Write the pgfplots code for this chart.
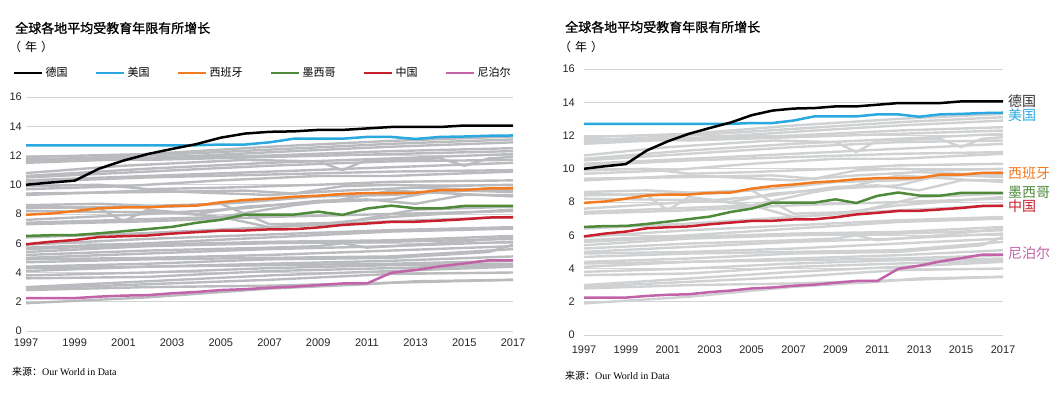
\documentclass[border=0pt]{standalone}
\usepackage{pgfplots}
\pgfplotsset{compat=1.18}
\usepackage{fontspec}
\setmainfont{Liberation Sans}
\newfontfamily\cjk{Noto Sans CJK SC}
\newfontfamily\cjkb[FakeBold=1.2]{Noto Sans CJK SC}
\newfontfamily\serifLatin{Liberation Serif}
\definecolor{cBlue}{HTML}{29A9E0}
\definecolor{cOrange}{HTML}{F47A20}
\definecolor{cGreen}{HTML}{4E8A3A}
\definecolor{cRed}{HTML}{C8202E}
\definecolor{cPink}{HTML}{C262A8}
\definecolor{greyL}{HTML}{BABBBE}
\definecolor{greyR}{HTML}{D0D1D3}
\definecolor{gridc}{HTML}{D4D4D4}

\newcommand{\greylines}{%
\addplot[gl] coordinates {(1997,11.9)(2002,12.1)(2007,12.6)(2012,13.0)(2017,13.3)};
\addplot[gl] coordinates {(1997,11.7)(2002,12.0)(2007,12.4)(2012,12.8)(2017,13.1)};
\addplot[gl] coordinates {(1997,11.6)(2003,11.9)(2008,12.3)(2012,12.6)(2017,12.9)};
\addplot[gl] coordinates {(1997,11.5)(2002,11.8)(2007,12.0)(2012,12.3)(2017,12.5)};
\addplot[gl] coordinates {(1997,11.8)(2002,11.7)(2007,11.9)(2012,12.1)(2017,12.3)};
\addplot[gl] coordinates {(1997,10.8)(2001,11.3)(2006,11.7)(2009,11.6)(2010,11.0)(2011,11.7)(2014,11.8)(2015,11.3)(2016,11.8)(2017,11.9)};
\addplot[gl] coordinates {(1997,10.6)(2002,11.1)(2007,11.5)(2012,11.8)(2017,12.1)};
\addplot[gl] coordinates {(1997,10.5)(2002,10.9)(2007,11.3)(2012,11.6)(2017,11.7)};
\addplot[gl] coordinates {(1997,10.3)(2002,10.6)(2007,10.9)(2012,11.2)(2017,11.5)};
\addplot[gl] coordinates {(1997,10.2)(2002,10.5)(2007,10.7)(2012,10.9)(2017,11.0)};
\addplot[gl] coordinates {(1997,9.9)(2000,10.0)(2002,9.7)(2005,9.8)(2009,10.0)(2012,10.2)(2017,10.3)};
\addplot[gl] coordinates {(1997,9.7)(2001,9.9)(2005,10.3)(2009,10.6)(2012,10.6)(2017,10.9)};
\addplot[gl] coordinates {(1997,9.4)(2002,9.5)(2006,9.6)(2008,9.4)(2010,9.9)(2012,10.0)(2014,9.9)(2017,10.0)};
\addplot[gl] coordinates {(1997,9.3)(2002,9.6)(2007,9.3)(2010,9.6)(2013,9.8)(2017,9.6)};
\addplot[gl] coordinates {(1997,8.6)(2000,8.7)(2003,8.5)(2006,8.8)(2009,9.2)(2012,9.3)(2015,9.6)(2017,9.5)};
\addplot[gl] coordinates {(1997,8.5)(2000,8.4)(2001,7.5)(2002,8.3)(2004,8.0)(2006,8.5)(2009,8.8)(2012,9.0)(2014,9.6)(2017,9.8)};
\addplot[gl] coordinates {(1997,8.4)(2001,8.5)(2005,8.7)(2007,7.3)(2010,7.4)(2013,8.3)(2017,8.5)};
\addplot[gl] coordinates {(1997,8.2)(2003,8.1)(2005,7.8)(2008,8.6)(2010,9.0)(2012,9.6)(2017,9.2)};
\addplot[gl] coordinates {(1997,7.6)(2002,8.0)(2006,8.4)(2009,8.9)(2011,9.0)(2013,8.7)(2015,9.3)(2017,9.3)};
\addplot[gl] coordinates {(1997,7.4)(2001,7.6)(2005,7.8)(2007,7.1)(2009,7.3)(2012,7.8)(2017,8.3)};
\addplot[gl] coordinates {(1997,7.3)(2002,7.5)(2007,7.8)(2012,8.0)(2017,8.2)};
\addplot[gl] coordinates {(1997,6.4)(2002,6.7)(2007,7.1)(2012,7.5)(2017,7.8)};
\addplot[gl] coordinates {(1997,5.9)(2002,6.3)(2007,6.6)(2012,6.9)(2017,7.1)};
\addplot[gl] coordinates {(1997,5.7)(2002,6.0)(2007,6.4)(2012,6.8)(2017,7.0)};
\addplot[gl] coordinates {(1997,5.6)(2002,5.9)(2007,6.1)(2012,6.2)(2017,6.5)};
\addplot[gl] coordinates {(1997,5.4)(2002,5.8)(2007,6.0)(2012,6.1)(2017,6.3)};
\addplot[gl] coordinates {(1997,5.2)(2002,5.5)(2007,5.7)(2009,5.8)(2010,6.0)(2011,5.7)(2014,6.0)(2017,6.4)};
\addplot[gl] coordinates {(1997,5.0)(2002,5.3)(2007,5.6)(2012,5.8)(2017,6.1)};
\addplot[gl] coordinates {(1997,4.9)(2002,5.0)(2007,5.2)(2012,5.5)(2017,5.8)};
\addplot[gl] coordinates {(1997,4.7)(2002,4.9)(2007,5.0)(2012,5.1)(2017,5.6)};
\addplot[gl] coordinates {(1997,4.4)(2002,4.6)(2007,4.9)(2012,5.0)(2016,5.4)(2017,5.9)};
\addplot[gl] coordinates {(1997,4.3)(2002,4.4)(2007,4.6)(2012,4.8)(2017,5.1)};
\addplot[gl] coordinates {(1997,4.1)(2002,4.4)(2007,4.5)(2012,4.6)(2017,4.8)};
\addplot[gl] coordinates {(1997,3.8)(2002,4.0)(2007,4.3)(2012,4.5)(2017,4.6)};
\addplot[gl] coordinates {(1997,3.6)(2002,3.7)(2007,4.1)(2012,4.3)(2017,4.5)};
\addplot[gl] coordinates {(1997,3.0)(2002,3.4)(2007,3.8)(2012,4.1)(2017,4.4)};
\addplot[gl] coordinates {(1997,2.9)(2002,3.2)(2007,3.5)(2012,3.9)(2017,4.0)};
\addplot[gl] coordinates {(1997,2.8)(2002,3.0)(2007,3.1)(2012,3.3)(2017,3.5)};
\addplot[gl] coordinates {(1997,1.9)(2002,2.3)(2007,2.9)(2011,3.2)(2013,3.4)(2017,3.5)};
}

\newcommand{\mainlines}{%
\addplot[ml, cPink] coordinates {(1997,2.25)(1998,2.25)(1999,2.25)(2000,2.35)(2001,2.42)(2002,2.45)(2003,2.58)(2004,2.67)(2005,2.8)(2006,2.86)(2007,2.96)(2008,3.03)(2009,3.14)(2010,3.25)(2011,3.25)(2012,3.98)(2013,4.17)(2014,4.42)(2015,4.62)(2016,4.83)(2017,4.83)};
\addplot[ml, cRed] coordinates {(1997,5.93)(1998,6.1)(1999,6.22)(2000,6.42)(2001,6.48)(2002,6.53)(2003,6.66)(2004,6.76)(2005,6.86)(2006,6.87)(2007,6.95)(2008,6.96)(2009,7.08)(2010,7.25)(2011,7.35)(2012,7.46)(2013,7.47)(2014,7.55)(2015,7.64)(2016,7.76)(2017,7.77)};
\addplot[ml, cGreen] coordinates {(1997,6.5)(1998,6.55)(1999,6.56)(2000,6.68)(2001,6.82)(2002,6.97)(2003,7.12)(2004,7.4)(2005,7.6)(2006,7.96)(2007,7.96)(2008,7.96)(2009,8.16)(2010,7.94)(2011,8.37)(2012,8.57)(2013,8.39)(2014,8.38)(2015,8.55)(2016,8.55)(2017,8.55)};
\addplot[ml, cOrange] coordinates {(1997,7.95)(1998,8.03)(1999,8.2)(2000,8.39)(2001,8.45)(2002,8.45)(2003,8.55)(2004,8.57)(2005,8.8)(2006,8.96)(2007,9.05)(2008,9.18)(2009,9.25)(2010,9.37)(2011,9.43)(2012,9.43)(2013,9.45)(2014,9.64)(2015,9.64)(2016,9.75)(2017,9.75)};
\addplot[ml, cBlue] coordinates {(1997,12.7)(2004,12.7)(2005,12.75)(2006,12.75)(2007,12.9)(2008,13.15)(2009,13.15)(2010,13.15)(2011,13.27)(2012,13.27)(2013,13.13)(2014,13.27)(2015,13.3)(2016,13.35)(2017,13.37)};
\addplot[ml, black] coordinates {(1997,10.0)(1998,10.15)(1999,10.28)(2000,11.1)(2001,11.65)(2002,12.1)(2003,12.45)(2004,12.78)(2005,13.22)(2006,13.5)(2007,13.62)(2008,13.65)(2009,13.75)(2010,13.75)(2011,13.85)(2012,13.95)(2013,13.95)(2014,13.95)(2015,14.05)(2016,14.05)(2017,14.05)};
}

\pgfplotsset{
  mystyle/.style={
    scale only axis, anchor=south west, clip=false,
    xmin=1997, xmax=2017, ymin=0, ymax=16,
    xtick={1997,1999,...,2017}, ytick={0,2,...,16},
    axis line style={draw=none}, tick style={draw=none},
    major tick length=0pt,
    ymajorgrids, grid style={gridc, line width=0.9pt},
    /pgf/number format/1000 sep={},
    /pgf/number format/assume math mode=true,
    tick label style={font=\fontsize{11pt}{12pt}\selectfont, text=black!85},
    ml/.style={line width=2.5pt, line join=round, forget plot},
  }
}

\begin{document}
\begin{tikzpicture}[x=1pt,y=1pt]
\path[use as bounding box] (0,0) rectangle (1056,394);

% titles
\node[anchor=west, inner sep=0pt, font=\cjkb\fontsize{13pt}{15pt}\selectfont] at (15,366) {全球各地平均受教育年限有所增长};
\node[anchor=west, inner sep=0pt, font=\cjk\fontsize{12pt}{14pt}\selectfont] at (9,347) {（\hspace{4pt}年\hspace{4pt}）};
\node[anchor=west, inner sep=0pt, font=\cjkb\fontsize{13pt}{15pt}\selectfont] at (565,367) {全球各地平均受教育年限有所增长};
\node[anchor=west, inner sep=0pt, font=\cjk\fontsize{12pt}{14pt}\selectfont] at (559,347) {（\hspace{4pt}年\hspace{4pt}）};
\node[anchor=west, inner sep=0pt, font=\fontsize{10pt}{12pt}\selectfont] at (12,22) {{\cjk 来源：}{\serifLatin Our World in Data}};
\node[anchor=west, inner sep=0pt, font=\fontsize{10pt}{12pt}\selectfont] at (565,18) {{\cjk 来源：}{\serifLatin Our World in Data}};

\begin{axis}[mystyle, at={(26pt,63pt)}, width=487pt, height=234pt,
  gl/.style={greyL, line width=2.4pt, line join=round, forget plot},
  yticklabel style={anchor=east, inner sep=0pt, xshift=-4pt},
  xticklabel style={anchor=north, inner sep=0pt, yshift=-8pt},
  legend columns=6,
  legend style={draw=none, fill=none, at={(-0.0267,1.1026)}, anchor=west,
    font=\cjk\fontsize{11pt}{13pt}\selectfont, inner sep=0pt,
    /tikz/every even column/.append style={column sep=25.5pt}},
  legend image code/.code={\draw[#1] (0pt,0pt) -- (28pt,0pt);},
]
\greylines
\mainlines
\addlegendimage{black, line width=2.5pt}\addlegendentry{德国}
\addlegendimage{cBlue, line width=2.5pt}\addlegendentry{美国}
\addlegendimage{cOrange, line width=2.5pt}\addlegendentry{西班牙}
\addlegendimage{cGreen, line width=2.5pt}\addlegendentry{墨西哥}
\addlegendimage{cRed, line width=2.5pt}\addlegendentry{中国}
\addlegendimage{cPink, line width=2.5pt}\addlegendentry{尼泊尔}
\end{axis}

\begin{axis}[mystyle, at={(584pt,59pt)}, width=419pt, height=266pt,
  gl/.style={greyR, line width=2.4pt, line join=round, forget plot},
  yticklabel style={anchor=east, inner sep=0pt, xshift=-9pt},
  xticklabel style={anchor=north, inner sep=0pt, yshift=-11pt},
]
\greylines
\mainlines
\node[anchor=west, font=\cjk\fontsize{14pt}{16pt}\selectfont, text=black!80, inner sep=0pt] at (axis cs:2017,14.05) {\hspace{5pt}德国};
\node[anchor=west, font=\cjk\fontsize{14pt}{16pt}\selectfont, text=cBlue, inner sep=0pt] at (axis cs:2017,13.25) {\hspace{5pt}美国};
\node[anchor=west, font=\cjk\fontsize{14pt}{16pt}\selectfont, text=cOrange, inner sep=0pt] at (axis cs:2017,9.75) {\hspace{5pt}西班牙};
\node[anchor=west, font=\cjk\fontsize{14pt}{16pt}\selectfont, text=cGreen, inner sep=0pt] at (axis cs:2017,8.55) {\hspace{5pt}墨西哥};
\node[anchor=west, font=\cjk\fontsize{14pt}{16pt}\selectfont, text=cRed, inner sep=0pt] at (axis cs:2017,7.75) {\hspace{5pt}中国};
\node[anchor=west, font=\cjk\fontsize{14pt}{16pt}\selectfont, text=cPink, inner sep=0pt] at (axis cs:2017,4.95) {\hspace{5pt}尼泊尔};
\end{axis}
\end{tikzpicture}
\end{document}
